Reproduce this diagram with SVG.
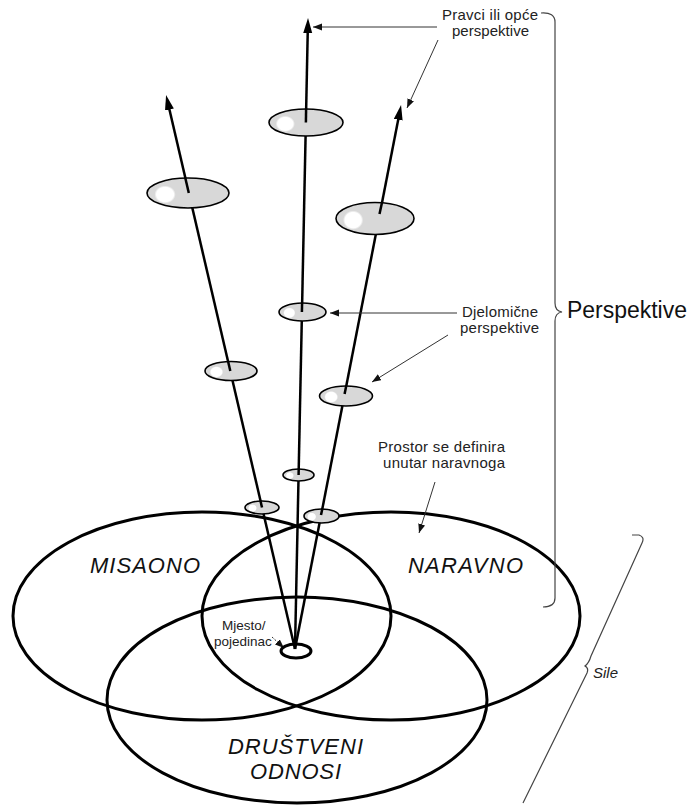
<svg xmlns="http://www.w3.org/2000/svg" width="689" height="806" viewBox="0 0 689 806">
<defs>
<style>
.region{fill:none;stroke:#000;stroke-width:3}
.axis{fill:none;stroke:#000;stroke-width:2.5;marker-end:url(#bigArrow)}
.disc{fill:url(#shine);stroke:#000;stroke-width:1.6}
.stub{stroke:#000;stroke-width:2.5}
.ptr{fill:none;stroke:#333;stroke-width:1;marker-end:url(#smallArrow)}
.brace{fill:none;stroke:#444;stroke-width:1.2}
.lbl{font-family:"Liberation Sans",Arial,sans-serif;font-size:15px;fill:#222}
.sm{font-family:"Liberation Sans",Arial,sans-serif;font-size:13.5px;fill:#222}
.big{font-family:"Liberation Sans",Arial,sans-serif;font-size:23px;fill:#111}
.reg{font-family:"Liberation Sans",Arial,sans-serif;font-size:22px;font-style:italic;fill:#111;text-anchor:middle}
</style>
<radialGradient id="shine" cx="0" cy="0" r="1" gradientTransform="translate(0.22 0.55) scale(0.13 0.3)">
<stop offset="0" stop-color="#fff"/>
<stop offset="0.8" stop-color="#fff"/>
<stop offset="1" stop-color="#d8d8d8"/>
</radialGradient>
<marker id="bigArrow" markerUnits="userSpaceOnUse" markerWidth="16" markerHeight="10" refX="9" refY="4.5" orient="auto">
<path d="M0,0 L15,4.5 L0,9 z" fill="#000"/>
</marker>
<marker id="smallArrow" markerUnits="userSpaceOnUse" markerWidth="10" markerHeight="8" refX="9" refY="3.5" orient="auto">
<path d="M0,0 L9,3.5 L0,7 z" fill="#111"/>
</marker>
</defs>
<rect width="689" height="806" fill="#fff"/>

<g id="misaono">
<ellipse class="region" cx="202" cy="616" rx="189" ry="104"/>
<text class="reg" x="145" y="573" textLength="110">MISAONO</text>
</g>
<g id="naravno">
<ellipse class="region" cx="391" cy="616" rx="189" ry="104"/>
<text class="reg" x="465.5" y="573" textLength="115">NARAVNO</text>
</g>
<g id="drustveni">
<ellipse class="region" cx="297" cy="700" rx="190" ry="103"/>
<text class="reg" x="295.5" y="754" textLength="135">DRUŠTVENI</text>
<text class="reg" x="295.5" y="779" textLength="91">ODNOSI</text>
</g>

<g id="connectors">
<path class="axis" d="M295,649 L167.4,100.8"/>
<path class="axis" d="M295,649 L307.9,24"/>
<path class="axis" d="M295,649 L399.9,110.9"/>
<path class="ptr" d="M437,27 L313,27"/>
<path class="ptr" d="M438,40 L407,108"/>
<path class="ptr" d="M457,313 L330,313"/>
<path class="ptr" d="M448,335 L372,382"/>
<path class="ptr" d="M435,482 L419,533"/>
<path class="ptr" stroke-dasharray="2,1.5" d="M272,637 L284,648"/>
</g>

<g id="mjesto">
<ellipse cx="296" cy="651" rx="15" ry="7" fill="none" stroke="#000" stroke-width="3"/>
<text class="sm" x="222" y="630">Mjesto/</text>
<text class="sm" x="214" y="646">pojedinac</text>
</g>

<g id="disc-top">
<ellipse class="disc" cx="306" cy="122.5" rx="37" ry="13.5"/>
<line class="stub" x1="306.1" y1="109" x2="305.9" y2="122.5"/>
</g>
<g id="disc-left-large">
<ellipse class="disc" cx="188" cy="193" rx="41" ry="15"/>
<line class="stub" x1="185.3" y1="178" x2="188.8" y2="193"/>
</g>
<g id="disc-right-large">
<ellipse class="disc" cx="375" cy="218.5" rx="39" ry="16"/>
<line class="stub" x1="382" y1="202.5" x2="379.5" y2="214"/>
</g>
<g id="disc-center-mid">
<ellipse class="disc" cx="302.5" cy="312" rx="23.5" ry="9"/>
<line class="stub" x1="302.1" y1="303" x2="301.9" y2="312"/>
</g>
<g id="disc-left-mid">
<ellipse class="disc" cx="231" cy="371" rx="26" ry="9.5"/>
<line class="stub" x1="228.1" y1="361.5" x2="230.3" y2="371"/>
</g>
<g id="disc-right-mid">
<ellipse class="disc" cx="346" cy="396" rx="26.5" ry="10"/>
<line class="stub" x1="346.2" y1="386" x2="344.6" y2="394"/>
</g>
<g id="disc-center-small">
<ellipse class="disc" cx="298.5" cy="475" rx="15.5" ry="6"/>
<line class="stub" x1="298.7" y1="469" x2="298.6" y2="475"/>
</g>
<g id="disc-left-low">
<ellipse class="disc" cx="262" cy="507.5" rx="17" ry="6.5"/>
<line class="stub" x1="260.5" y1="501" x2="262" y2="507.5"/>
</g>
<g id="disc-right-low">
<ellipse class="disc" cx="321.5" cy="516" rx="17.5" ry="7"/>
<line class="stub" x1="322.3" y1="509" x2="321" y2="515"/>
</g>

<g id="label-pravci">
<text class="lbl" x="442" y="20" textLength="96">Pravci ili opće</text>
<text class="lbl" x="452" y="36" textLength="77">perspektive</text>
</g>
<g id="label-djelomicne">
<text class="lbl" x="462" y="317" textLength="76">Djelomične</text>
<text class="lbl" x="460" y="333" textLength="79">perspektive</text>
</g>
<g id="label-prostor">
<text class="lbl" x="378" y="452" textLength="127">Prostor se definira</text>
<text class="lbl" x="383" y="468" textLength="122">unutar naravnoga</text>
</g>

<g id="brace-perspektive">
<path class="brace" d="M541,13 Q555,12 555,22 L555,303 Q555,311 562,312 Q555,313 555,321 L555,598 Q555,607 543,607"/>
<text class="big" x="567" y="318" textLength="120">Perspektive</text>
</g>
<g id="brace-sile">
<path class="brace" d="M632,535 L639,535 Q645,537 642,543 L591,656 Q589,663 585,666 Q589,668 587,673 L523,803"/>
<text class="lbl" x="593" y="678" font-style="italic" font-size="17">Sile</text>
</g>
</svg>
